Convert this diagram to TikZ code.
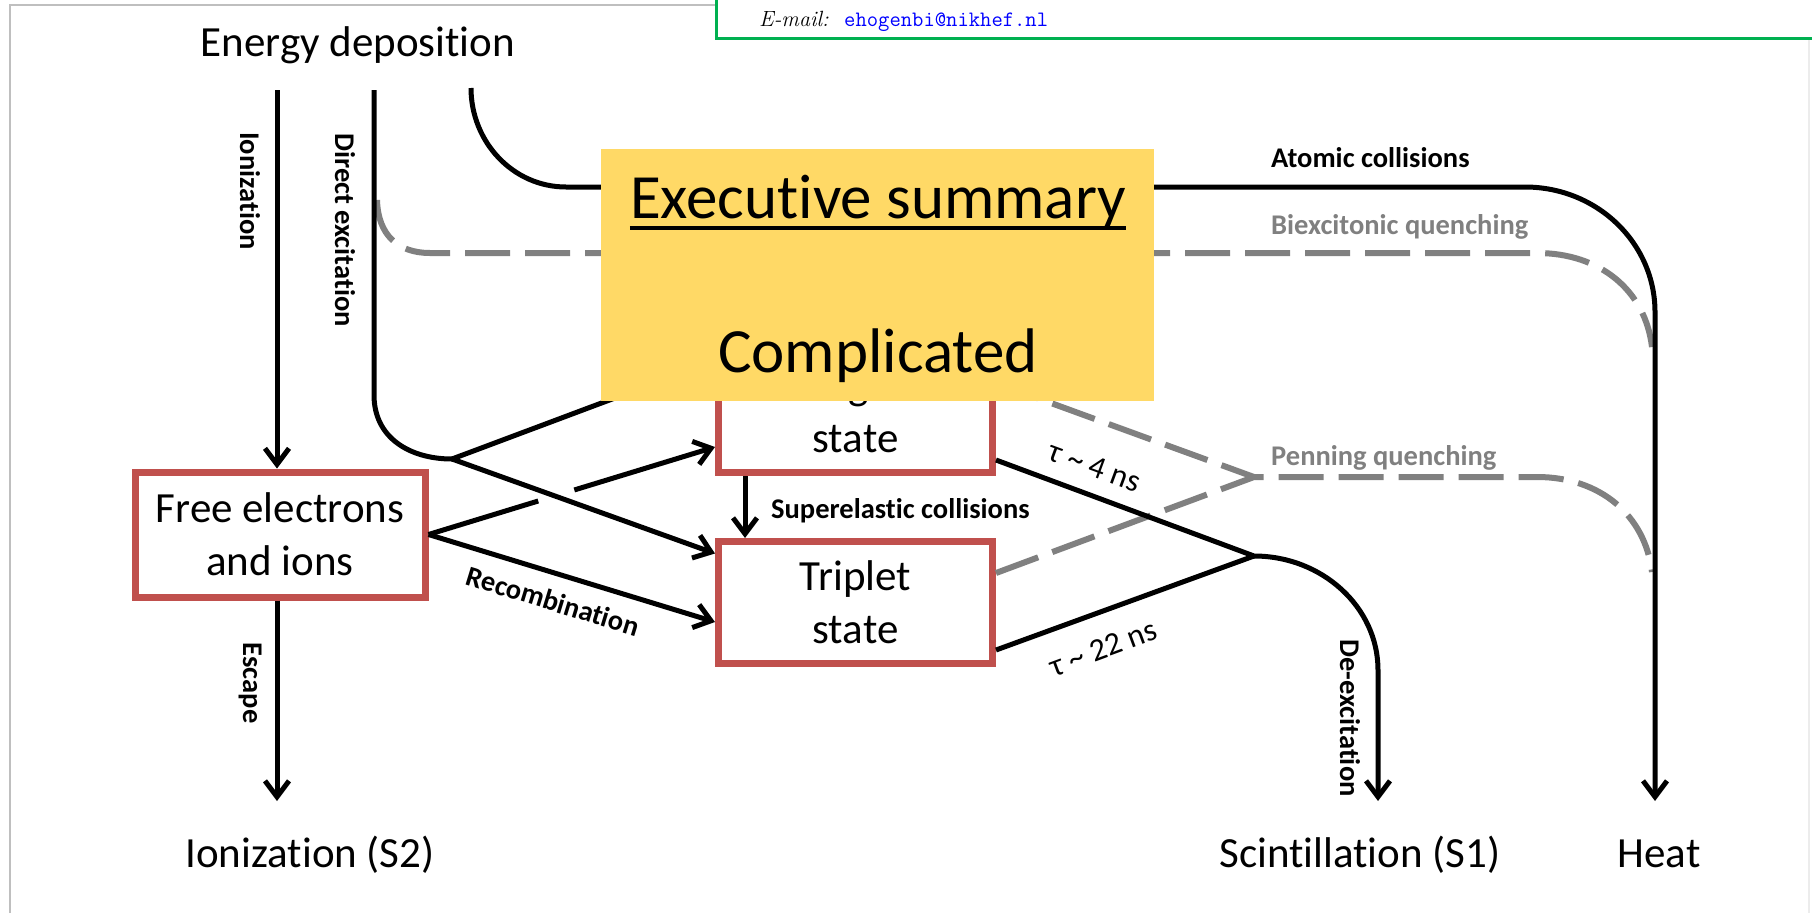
\documentclass[tikz,border=0pt]{standalone}
\usepackage{fontspec}
\newfontfamily\calib[RawFeature={-liga;-clig;-calt;-dlig}]{Carlito}
\usetikzlibrary{arrows.meta,calc}
\definecolor{boxred}{RGB}{192,80,77}
\definecolor{quench}{RGB}{128,128,128}
\definecolor{summaryfill}{RGB}{255,217,102}
\definecolor{framegreen}{RGB}{0,176,80}
\begin{document}
\begin{tikzpicture}[x=1pt,y=-1pt,
  big/.style={font=\calib\fontsize{43}{53}\selectfont},
  lab/.style={font=\calib\bfseries\fontsize{28.5}{32}\selectfont, inner sep=0pt},
  graylab/.style={lab, text=quench},
  taulab/.style={font=\calib\fontsize{32}{36}\selectfont, inner sep=0pt},
  statebox/.style={draw=boxred, line width=7pt, fill=white, minimum width=274pt,
    minimum height=122pt, align=center, big, inner sep=0pt},
  flow/.style={line width=5pt},
  arr/.style={flow, -{Straight Barb[length=16pt,width=24pt]}},
  quenchline/.style={draw=quench, line width=6pt, dash pattern=on 45pt off 15pt},
]
\useasboundingbox (0,0) rectangle (1812,913);
\fill[white] (0,0) rectangle (1812,913);

% page frame and header box
\draw[gray!50, line width=1.5pt] (10,913) -- (10,5) -- (716,5);
\draw[gray!15, line width=1.5pt] (1809,38) -- (1809,913);
\draw[framegreen, line width=3pt] (716,0) -- (716,38) -- (1812,38);
\node[anchor=base west, inner sep=0pt, font=\fontsize{22}{24}\selectfont\itshape] (mailtag) at (759,26) {E-mail:};
\node[anchor=base west, inner sep=0pt, font=\fontsize{22}{24}\selectfont\ttfamily, text=blue] (mail) at (844,26) {ehogenbi@nikhef.nl};

% titles
\node[big, anchor=base, inner sep=0pt] (edep) at (358,56) {Energy deposition};
\node[big, anchor=base, inner sep=0pt] (s2) at (310,867) {Ionization (S2)};
\node[big, anchor=base, inner sep=0pt] (s1) at (1360,867) {Scintillation (S1)};
\node[big, anchor=base, inner sep=0pt] (heat) at (1659,867) {Heat};

% fixed points
\coordinate (iontop) at (277,90);
\coordinate (dirtop) at (374,90);
\coordinate (atomtop) at (471,88);
\coordinate (branch) at (452,459);
\coordinate (vtx) at (1254,556);
\coordinate (pv) at (1254,477);
\coordinate (s2end) at (277,801);
\coordinate (s1end) at (1378,801);
\coordinate (heatend) at (1655,801);
\coordinate (biexstart) at (377,200);

% quenching channels
\draw[quenchline] (biexstart) .. controls (378,235) and (398,253) .. (430,253) -- (1537,253)
  .. controls (1600,253) and (1645,290) .. (1652,347);

% state boxes
\node[statebox, minimum width=290pt, minimum height=125pt] (free) at (280,534.5) {Free electrons\\and ions};
\node[statebox] (singlet) at (855.5,411.5) {Singlet\\state};
\node[statebox] (triplet) at (855.5,602.5) {Triplet\\state};

\draw[quenchline] ([yshift=28.5pt]singlet.east) -- (pv);
\draw[quenchline] ([yshift=29.5pt]triplet.east) -- (pv) -- (1537,477)
  .. controls (1600,477) and (1645,515) .. (1652,572);

% atomic collisions to heat
\draw[arr] (atomtop) .. controls (471,142) and (513,187) .. (566,187) -- (1525,187)
  .. controls (1597,187) and (1655,243) .. (1655,312) -- (heatend);

% ionization and escape
\draw[arr] (iontop) -- ([xshift=-3pt]free.north);
\draw[arr] ([xshift=-3pt]free.south) -- (s2end);

% direct excitation
\draw[flow] (dirtop) -- (374,395) .. controls (374,438) and (410,459) .. (branch);
\draw[arr] (branch) -- ([yshift=51pt]singlet.west);
\draw[arr] (branch) -- ([yshift=49pt]triplet.west);

% recombination
\coordinate (fs) at ([yshift=-35.5pt]singlet.west);
\draw[flow] (free.east) -- ($(free.east)!0.383!(fs)$);
\draw[arr] ($(free.east)!0.509!(fs)$) -- (fs);
\draw[arr] (free.east) -- ([yshift=-19.5pt]triplet.west);

% superelastic collisions
\draw[arr] ([xshift=-110.5pt]singlet.south) -- ([xshift=-110.5pt]triplet.north);

% de-excitation
\draw[arr] ([yshift=-48.5pt]singlet.east) -- (vtx) .. controls (1322,556) and (1378,607) .. (1378,670) -- (s1end);
\draw[flow] ([yshift=-47.5pt]triplet.east) -- (vtx);

% labels
\node[lab, rotate=-90] (lion) at (250,191) {Ionization};
\node[lab, rotate=-90] (ldir) at (345,230) {Direct excitation};
\node[lab, rotate=-90] (lesc) at (250,683) {Escape};
\node[lab, rotate=-90] (ldex) at (1350,718) {De-excitation};
\node[lab, anchor=base west] (latom) at (1271,167) {Atomic collisions};
\node[graylab, anchor=base west] (lbiex) at (1271,234) {Biexcitonic quenching};
\node[graylab, anchor=base west] (lpen) at (1271,465) {Penning quenching};
\node[lab, anchor=base west] (lsup) at (771,518) {Superelastic collisions};
\node[lab, rotate=-17] (lrec) at (553,601) {Recombination};
\node[taulab, rotate=-20.3] (lfast) at (1095,467) {τ \textasciitilde{} 4 ns};
\node[taulab, rotate=20.3] (lslow) at (1103,648) {τ \textasciitilde{} 22 ns};

% summary panel
\node[fill=summaryfill, minimum width=553pt, minimum height=252pt, inner sep=0pt] (panel) at (877.5,275) {};
\node[anchor=base, inner sep=0pt, font=\calib\fontsize{63}{70}\selectfont] (title) at (878,218) {Executive summary};
\draw[line width=4pt] ([yshift=-10pt]title.base west) -- ([yshift=-10pt]title.base east);
\node[anchor=base, inner sep=0pt, font=\calib\fontsize{63}{70}\selectfont] (verdict) at (878,372) {Complicated};
\end{tikzpicture}
\end{document}
